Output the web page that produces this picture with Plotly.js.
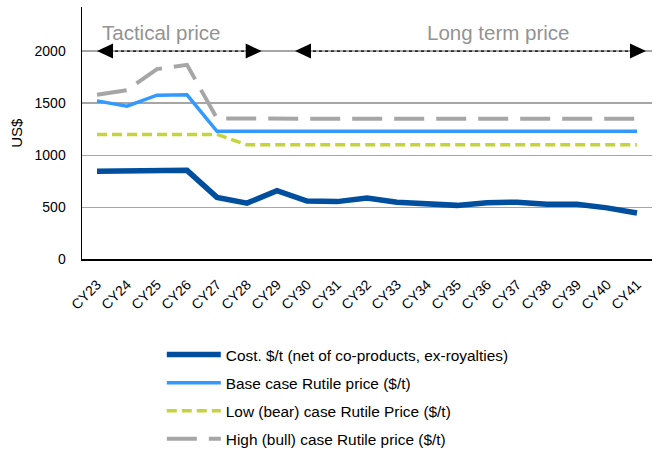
<!DOCTYPE html>
<html>
<head>
<meta charset="utf-8">
<script src="https://cdn.plot.ly/plotly-3.0.1.min.js"></script>
<style>html,body{margin:0;padding:0;background:#fff;overflow:hidden;}#chart{width:659px;height:456px;}</style>
</head>
<body>
<div id="chart"></div>
<script>
var categories = ['CY23','CY24','CY25','CY26','CY27','CY28','CY29','CY30','CY31','CY32','CY33','CY34','CY35','CY36','CY37','CY38','CY39','CY40','CY41'];
var costValues = [846, 845, 845, 855, 596, 541, 660, 560, 555, 590, 550, 535, 519, 545, 550, 530, 530, 495, 445];
var baseValues = [1522, 1471, 1577, 1580, 1230, 1230, 1230, 1230, 1230, 1230, 1230, 1230, 1230, 1230, 1230, 1230, 1230, 1230, 1230];
var lowValues  = [1200, 1200, 1200, 1200, 1200, 1100, 1100, 1100, 1100, 1100, 1100, 1100, 1100, 1100, 1100, 1100, 1100, 1100, 1100];
var highValues = [1580, 1625, 1827, 1868, 1353, 1350, 1350, 1350, 1350, 1350, 1350, 1350, 1350, 1350, 1350, 1350, 1350, 1350, 1350];
var seriesNames = ['Cost. $/t (net of co-products, ex-royalties)', 'Base case Rutile price ($/t)', 'Low (bear) case Rutile Price ($/t)', 'High (bull) case Rutile price ($/t)'];
var yTicks = [0, 500, 1000, 1500, 2000];
var periodLabels = ['Tactical price', 'Long term price'];

var idx = categories.map(function(_, i){ return i; });
var FONT = 'Liberation Sans, Arial, sans-serif';

var traces = [
  {x: idx, y: highValues, name: seriesNames[3], mode: 'lines', legendgroup: 'd', legendrank: 4,
   line: {color: '#a6a6a6', width: 4, dash: '30px,12px'}},
  {x: idx, y: lowValues, name: seriesNames[2], mode: 'lines', legendgroup: 'c', legendrank: 3,
   line: {color: '#c5d43a', width: 3.5, dash: '10px,5px'}},
  {x: idx, y: baseValues, name: seriesNames[1], mode: 'lines', legendgroup: 'b', legendrank: 2,
   line: {color: '#3399ff', width: 3.5}},
  {x: idx, y: costValues, name: seriesNames[0], mode: 'lines', legendgroup: 'a', legendrank: 1,
   line: {color: '#004f9e', width: 5.5}}
];

function tri(xIdx, dir) {
  var p = dir < 0 ? 'M0,0 L16,7.5 L16,-7.5 Z' : 'M0,0 L-16,7.5 L-16,-7.5 Z';
  return {type: 'path', xref: 'x', yref: 'y', xsizemode: 'pixel', ysizemode: 'pixel',
          xanchor: xIdx, yanchor: 2000, path: p, fillcolor: '#000', line: {width: 0}};
}
var shapes = [
  {type: 'line', xref: 'x', yref: 'y', x0: 0.2, x1: 5.3, y0: 2000, y1: 2000, line: {color: '#000', width: 1.2, dash: 'dot'}},
  {type: 'line', xref: 'x', yref: 'y', x0: 6.8, x1: 18.1, y0: 2000, y1: 2000, line: {color: '#000', width: 1.2, dash: 'dot'}},
  tri(0, -1), tri(5.49, 1), tri(6.6, -1), tri(18.3, 1)
];

var layout = {
  width: 659, height: 456,
  margin: {l: 82, r: 7, t: 7, b: 0},
  paper_bgcolor: '#fff', plot_bgcolor: '#fff',
  font: {family: FONT, color: '#000', size: 14},
  showlegend: true,
  legend: {x: 0.14, xanchor: 'left', y: 0.2611, yanchor: 'top', orientation: 'v',
           font: {family: FONT, size: 15.4, color: '#000'}, itemwidth: 54,
           traceorder: 'grouped', tracegroupgap: 5.1, bgcolor: 'rgba(0,0,0,0)'},
  xaxis: {
    range: [-0.5, 18.5], tickmode: 'array', tickvals: idx, ticktext: categories, automargin: false,
    tickangle: -45, showgrid: false, zeroline: false, showline: true, linecolor: '#000', linewidth: 1.5,
    ticks: 'outside', ticklen: 10, tickcolor: 'rgba(0,0,0,0)', tickfont: {family: FONT, size: 14}
  },
  yaxis: {
    domain: [0.4365, 1],
    range: [0, 2423], tickmode: 'array', tickvals: yTicks, automargin: false,
    showgrid: true, gridcolor: '#a6a6a6', gridwidth: 1.5, zeroline: false,
    showline: true, linecolor: '#000', linewidth: 1.5,
    ticks: 'outside', ticklen: 12, tickcolor: 'rgba(0,0,0,0)', tickfont: {family: FONT, size: 14},
    title: {text: 'US$', font: {family: FONT, size: 15}, standoff: 8}
  },
  shapes: shapes,
  annotations: [
    {x: 2.15, y: 2183, xref: 'x', yref: 'y', text: periodLabels[0], showarrow: false,
     font: {family: FONT, size: 20.5, color: '#939393'}},
    {x: 13.37, y: 2183, xref: 'x', yref: 'y', text: periodLabels[1], showarrow: false,
     font: {family: FONT, size: 20.5, color: '#939393'}}
  ]
};

Plotly.newPlot('chart', traces, layout, {displayModeBar: false, staticPlot: true});
</script>
</body>
</html>
